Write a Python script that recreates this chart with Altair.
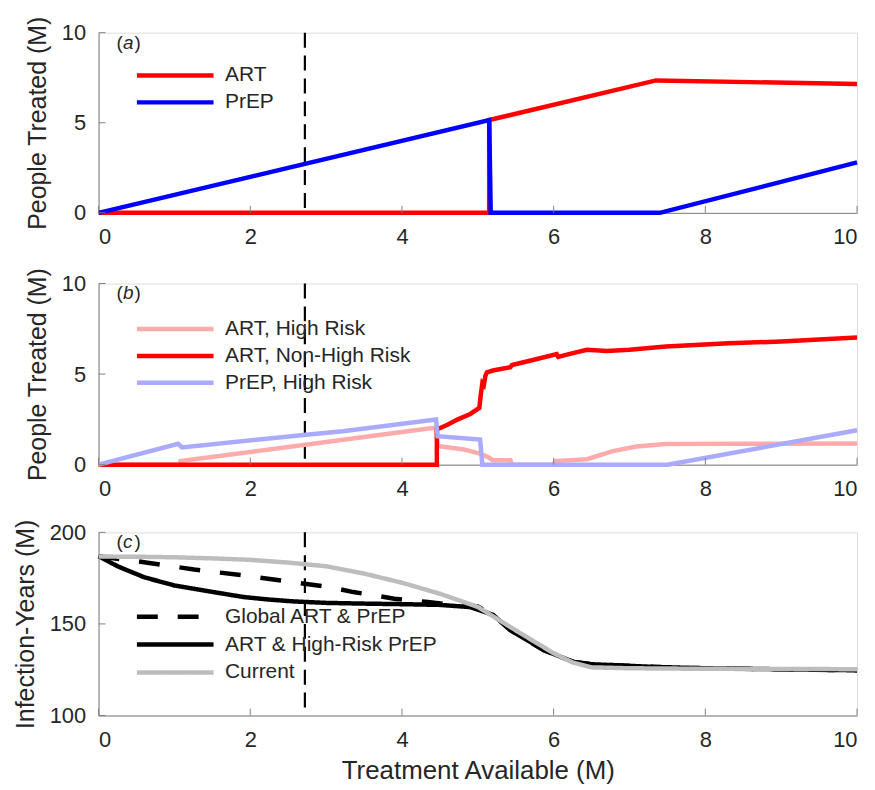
import altair as alt
import pandas as pd

FONT = "Liberation Sans"
W = 762
HA, HB, HC = 181, 182, 184
AXC = "#808080"
TXT = "#262626"

X_TICKS = [0, 2, 4, 6, 8, 10]
Y_TICKS_AB = [0, 5, 10]
Y_TICKS_C = [100, 150, 200]
VLINE_X = [2.72]

# ---- Panel (a)
A_NAMES = ["ART", "PrEP"]
A_COLORS = ["#ff0000", "#0000ff"]
A_ART_X = [0, 5.15, 5.15, 7.35, 10]
A_ART_Y = [0, 0, 5.15, 7.35, 7.15]
A_PREP_X = [0, 5.15, 5.17, 7.4, 10]
A_PREP_Y = [0, 5.15, 0, 0, 2.8]

# ---- Panel (b)
B_NAMES = ["ART, High Risk", "ART, Non-High Risk", "PrEP, High Risk"]
B_COLORS = ["#ffabab", "#ff0000", "#aaaaff"]
B_ARTHR_X = [0, 1.07, 1.08, 2.0, 3.0, 4.0, 4.45, 4.47, 4.82, 5.04, 5.15, 5.2, 5.43, 5.45,
             6.0, 6.02, 6.44, 6.78, 7.09, 7.48, 8.5, 10]
B_ARTHR_Y = [0, 0, 0.2, 0.7, 1.25, 1.8, 2.05, 1.03, 0.84, 0.6, 0.38, 0.24, 0.24, 0.0,
             0.0, 0.2, 0.3, 0.75, 1.0, 1.14, 1.16, 1.17]
B_ARTNH_X = [0, 4.46, 4.46, 4.6, 4.73, 4.9, 5.02, 5.04, 5.06, 5.08, 5.1, 5.12, 5.2, 5.43,
             5.45, 5.7, 6.04, 6.06, 6.2, 6.44, 6.7, 7.0, 7.48, 8.31, 9.0, 10]
B_ARTNH_Y = [0, 0, 1.94, 2.2, 2.49, 2.8, 3.13, 3.9, 4.5, 4.4, 4.9, 5.1, 5.2, 5.38,
             5.5, 5.75, 6.1, 5.95, 6.1, 6.34, 6.28, 6.34, 6.52, 6.7, 6.8, 7.02]
B_PREPHR_X = [0, 1.05, 1.1, 2.77, 3.22, 4.45, 4.47, 5.03, 5.06, 7.5, 10]
B_PREPHR_Y = [0, 1.15, 0.95, 1.67, 1.85, 2.49, 1.57, 1.39, 0, 0, 1.9]

# ---- Panel (c)
C_NAMES = ["Global ART & PrEP", "ART & High-Risk PrEP", "Current"]
C_COLORS = ["#000000", "#000000", "#bdbdbd"]
C_DASHES = [[21, 20], [1, 0], [1, 0]]
C_GLOB_X = [0, 0.6, 1.26, 1.91, 2.57, 3.05, 3.36, 3.9, 4.34, 4.6, 5.0,
            5.2, 5.43, 5.87, 6.26, 6.5, 7.35, 8, 10]
C_GLOB_Y = [187, 183.7, 179.7, 176.5, 172.8, 170.1, 167.4, 163.8, 162, 160.8, 159.5,
            155, 146.6, 135.7, 129.3, 128, 126.5, 125.8, 124.7]
C_HR_X = [0, 0.25, 0.6, 1, 1.26, 1.5, 1.91, 2.25, 2.57, 3, 3.5, 4, 4.5, 4.9, 5.2,
          5.43, 5.87, 6.26, 6.5, 7.35, 8, 10]
C_HR_Y = [187, 181.5, 175.5, 171, 169.2, 167.5, 164.7, 163.3, 162.3, 161.5, 161.1,
          160.8, 160.4, 159.2, 155, 146.6, 135.7, 129.3, 128, 126.5, 125.8, 124.7]
C_CUR_X = [0, 0.5, 1, 1.5, 2, 2.5, 3, 3.5, 4, 4.5, 5, 5.5, 6, 6.25, 6.5, 7, 8, 9, 10]
C_CUR_Y = [186.8, 186.7, 186.4, 185.8, 185, 183.5, 181.5, 177.5, 172.5, 166.5, 159.3,
           146.5, 134, 129, 126.3, 125.8, 125.5, 125.4, 125.3]


def frame(series):
    rows = []
    for name, (xs, ys) in series.items():
        for i, (x, y) in enumerate(zip(xs, ys)):
            rows.append({"series": name, "x": x, "y": y, "i": i})
    return pd.DataFrame(rows)


def panel(df, names, colors, draw_order, ydom, yticks, ytitle, letter, legend_y,
          row_h, H, xtitle=None, dashes=None):
    xaxis = alt.Axis(values=X_TICKS, format="d", ticks=False, tickSize=0, grid=False,
                     domainColor=AXC, domainWidth=1, labelFont=FONT, labelFontSize=22,
                     labelColor=TXT, labelPadding=14,
                     titleFont=FONT, titleFontSize=26, titleFontWeight="normal",
                     titleColor=TXT, titlePadding=7, title=xtitle if xtitle else "")
    yaxis = alt.Axis(values=yticks, format="d", ticks=False, tickSize=0, grid=False,
                     domainColor=AXC, domainWidth=1, labelFont=FONT, labelFontSize=22,
                     labelColor=TXT, labelPadding=13,
                     titleFont=FONT, titleFontSize=25, titleFontWeight="normal",
                     titleColor=TXT, titlePadding=11, title=ytitle)
    xenc = alt.X("x:Q", scale=alt.Scale(domain=[0, 10], nice=False, zero=False), axis=xaxis)
    yenc = alt.Y("y:Q", scale=alt.Scale(domain=ydom, nice=False, zero=False), axis=yaxis)
    legend = alt.Legend(title=None, orient="none", legendX=36, legendY=legend_y,
                        symbolType="stroke", symbolSize=5929, symbolStrokeWidth=4.5,
                        clipHeight=row_h, rowPadding=0, labelFont=FONT, labelFontSize=21,
                        labelColor=TXT, labelOffset=9, padding=0, labelLimit=400)
    enc = dict(x=xenc, y=yenc,
               color=alt.Color("series:N", scale=alt.Scale(domain=names, range=colors),
                               legend=legend),
               order=alt.Order("i:Q"))
    if dashes:
        enc["strokeDash"] = alt.StrokeDash("series:N",
                                           scale=alt.Scale(domain=names, range=dashes),
                                           legend=legend)
    vline = alt.Chart(pd.DataFrame({"x": VLINE_X})).mark_rule(
        color="black", strokeWidth=2.2, strokeDash=[15, 8]).encode(x=xenc)
    lines = [
        alt.Chart(df).transform_filter(alt.datum.series == s)
        .mark_line(strokeWidth=4.5, strokeCap="butt").encode(**enc)
        for s in draw_order
    ]
    xt = alt.Chart(pd.DataFrame({"x": X_TICKS})).mark_rule(color=AXC, strokeWidth=1).encode(
        x=xenc, y=alt.value(H), y2=alt.value(H - 7))
    yt = alt.Chart(pd.DataFrame({"y": yticks})).mark_rule(color=AXC, strokeWidth=1).encode(
        y=yenc, x=alt.value(0), x2=alt.value(7))
    parts = [("(", "normal", 18), (letter, "italic", 24.5), (")", "normal", 36)]
    texts = [
        alt.Chart(pd.DataFrame({"t": [p]})).mark_text(
            align="left", baseline="middle", font=FONT, fontSize=19, fontStyle=st,
            color=TXT).encode(x=alt.value(px), y=alt.value(10), text="t:N")
        for p, st, px in parts
    ]
    return alt.layer(vline, *lines, xt, yt, *texts).properties(width=W, height=H)


dfa = frame({"ART": (A_ART_X, A_ART_Y), "PrEP": (A_PREP_X, A_PREP_Y)})
dfb = frame({"ART, High Risk": (B_ARTHR_X, B_ARTHR_Y),
             "ART, Non-High Risk": (B_ARTNH_X, B_ARTNH_Y),
             "PrEP, High Risk": (B_PREPHR_X, B_PREPHR_Y)})
dfc = frame({"Global ART & PrEP": (C_GLOB_X, C_GLOB_Y),
             "ART & High-Risk PrEP": (C_HR_X, C_HR_Y),
             "Current": (C_CUR_X, C_CUR_Y)})

pa = panel(dfa, A_NAMES, A_COLORS, ["ART", "PrEP"], [0, 10], Y_TICKS_AB,
           "People Treated (M)", "a", 29.5, 27, HA)
pb = panel(dfb, B_NAMES, B_COLORS, ["ART, High Risk", "ART, Non-High Risk", "PrEP, High Risk"],
           [0, 10], Y_TICKS_AB, "People Treated (M)", "b", 32.5, 26.5, HB)
pc = panel(dfc, C_NAMES, C_COLORS, ["Global ART & PrEP", "ART & High-Risk PrEP", "Current"],
           [100, 200], Y_TICKS_C, "Infection-Years (M)", "c", 71, 27.5, HC,
           xtitle="Treatment Available (M)", dashes=C_DASHES)

chart = alt.vconcat(pa, pb, pc, spacing=18).resolve_scale(
    color="independent", strokeDash="independent"
).properties(
    padding={"left": 4, "top": 5, "right": 0, "bottom": 0}
).configure_view(strokeWidth=0).configure(font=FONT, background="white")

chart.save("out.html", embed_options={"renderer": "svg", "actions": False})
